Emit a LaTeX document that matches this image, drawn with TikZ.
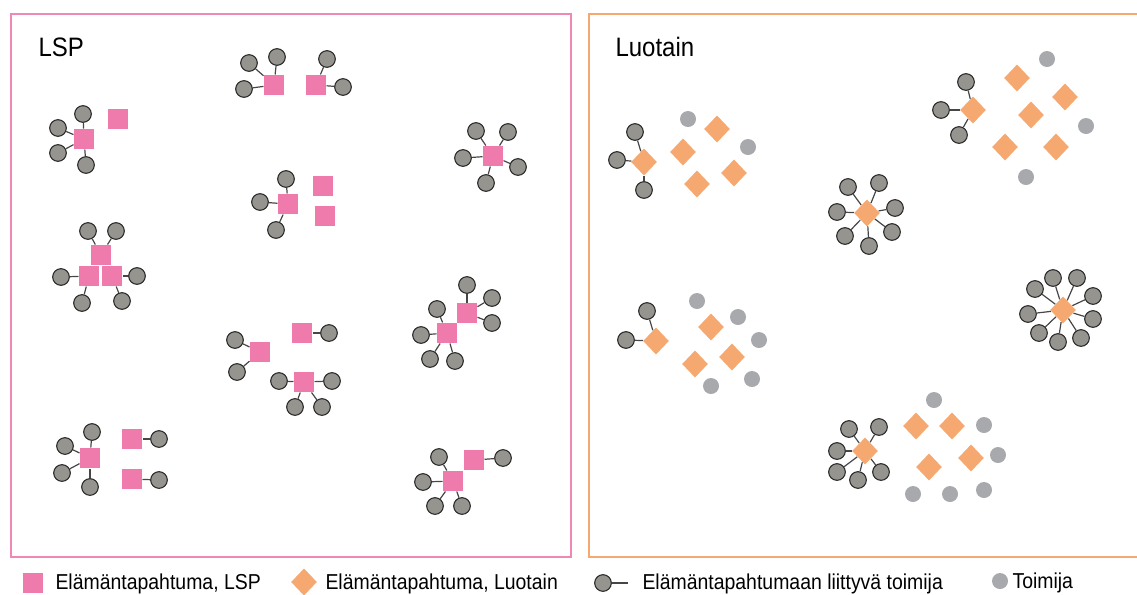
\documentclass[tikz,border=0pt]{standalone}
\usepackage{fontspec}
\setmainfont{Liberation Sans}[FakeStretch=0.9]
\usetikzlibrary{shapes.geometric}

\definecolor{lsppink}{RGB}{238,123,172}
\definecolor{luooranssi}{RGB}{245,168,111}
\definecolor{toimijaharmaa}{RGB}{149,148,143}
\definecolor{vapaaharmaa}{RGB}{168,169,173}
\definecolor{viiva}{RGB}{70,70,70}

\tikzset{every picture/.style={line width=0.75pt}}
\tikzset{
  lsp/.style={rectangle,fill=lsppink,inner sep=0pt,minimum size=15pt},
  luo/.style={diamond,fill=luooranssi,inner sep=0pt,minimum width=19.5pt,minimum height=20.5pt},
  toim/.style={circle,fill=toimijaharmaa,draw={rgb,255:red,40;green,40;blue,40},line width=0.8pt,inner sep=0pt,minimum size=12.5pt},
  vapaa/.style={circle,fill=vapaaharmaa,inner sep=0pt,minimum size=12pt},
  yhteys/.style={draw=viiva,line width=0.9pt},
  otsikko/.style={anchor=base west,inner sep=0pt,font=\fontsize{20}{24}\selectfont},
  selite/.style={anchor=base west,inner sep=0pt,font=\fontsize{16.2}{20}\selectfont}
}

\begin{document}
\begin{tikzpicture}[x=0.75pt,y=0.75pt,yscale=-1,xscale=1]
\useasboundingbox (0,0) rectangle (1137,594);

%Frames
\draw [color=lsppink!90!white,line width=1.5pt] (11,14) rectangle (571,557) ;
\draw [color=luooranssi,line width=1.5pt] (589,14) rectangle (1160,557) ;

% Text Node
\node [otsikko] (lspotsikko) at (38,56) {LSP};
% Text Node
\node [otsikko] (luootsikko) at (615,56) {Luotain};

%%%%%%%%%%%%%%%% LSP %%%%%%%%%%%%%%%%

%Group: one event, four actors, lone event
\node [lsp] (s1) at (84,139) {};
\node [lsp] (s1b) at (118,119) {};
\node [toim] (t1a) at (83,114) {};
\node [toim] (t1b) at (58,128) {};
\node [toim] (t1c) at (58,153) {};
\node [toim] (t1d) at (86,165) {};
\draw [yhteys] (t1a) -- (s1) ;
\draw [yhteys] (t1b) -- (s1) ;
\draw [yhteys] (t1c) -- (s1) ;
\draw [yhteys] (t1d) -- (s1) ;

%Group: two events side by side
\node [lsp] (s2a) at (274,85) {};
\node [lsp] (s2b) at (316,85) {};
\node [toim] (t2a) at (249,63) {};
\node [toim] (t2b) at (277,57) {};
\node [toim] (t2c) at (244,89) {};
\node [toim] (t2d) at (327,59) {};
\node [toim] (t2e) at (343,87) {};
\draw [yhteys] (t2a) -- (s2a) ;
\draw [yhteys] (t2b) -- (s2a) ;
\draw [yhteys] (t2c) -- (s2a) ;
\draw [yhteys] (t2d) -- (s2b) ;
\draw [yhteys] (t2e) -- (s2b) ;

%Group: five actors
\node [lsp] (s3) at (493,156) {};
\node [toim] (t3a) at (476,131) {};
\node [toim] (t3b) at (508,132) {};
\node [toim] (t3c) at (463,158) {};
\node [toim] (t3d) at (518,167) {};
\node [toim] (t3e) at (486,183) {};
\draw [yhteys] (t3a) -- (s3) ;
\draw [yhteys] (t3b) -- (s3) ;
\draw [yhteys] (t3c) -- (s3) ;
\draw [yhteys] (t3d) -- (s3) ;
\draw [yhteys] (t3e) -- (s3) ;

%Group: three actors, two lone events
\node [lsp] (s4) at (288,204) {};
\node [lsp] (s4b) at (323,186) {};
\node [lsp] (s4c) at (325,216) {};
\node [toim] (t4a) at (286,179) {};
\node [toim] (t4b) at (260,202) {};
\node [toim] (t4c) at (276,230) {};
\draw [yhteys] (t4a) -- (s4) ;
\draw [yhteys] (t4b) -- (s4) ;
\draw [yhteys] (t4c) -- (s4) ;

%Group: three stacked events
\node [lsp] (s5a) at (101,255) {};
\node [lsp] (s5b) at (89,276) {};
\node [lsp] (s5c) at (112,276) {};
\node [toim] (t5a) at (88,231) {};
\node [toim] (t5b) at (116,231) {};
\node [toim] (t5c) at (61,277) {};
\node [toim] (t5d) at (82,303) {};
\node [toim] (t5e) at (137,276) {};
\node [toim] (t5f) at (122,301) {};
\draw [yhteys] (t5a) -- (s5a) ;
\draw [yhteys] (t5b) -- (s5a) ;
\draw [yhteys] (t5c) -- (s5b) ;
\draw [yhteys] (t5d) -- (s5b) ;
\draw [yhteys] (t5e) -- (s5c) ;
\draw [yhteys] (t5f) -- (s5c) ;

%Group: three events in the middle
\node [lsp] (s6a) at (260,352) {};
\node [lsp] (s6b) at (302,333) {};
\node [lsp] (s6c) at (304,382) {};
\node [toim] (t6a) at (235,340) {};
\node [toim] (t6b) at (237,372) {};
\node [toim] (t6c) at (329,333) {};
\node [toim] (t6d) at (279,381) {};
\node [toim] (t6e) at (332,381) {};
\node [toim] (t6f) at (295,407) {};
\node [toim] (t6g) at (322,407) {};
\draw [yhteys] (t6a) -- (s6a) ;
\draw [yhteys] (t6b) -- (s6a) ;
\draw [yhteys] (t6c) -- (s6b) ;
\draw [yhteys] (t6d) -- (s6c) ;
\draw [yhteys] (t6e) -- (s6c) ;
\draw [yhteys] (t6f) -- (s6c) ;
\draw [yhteys] (t6g) -- (s6c) ;

%Group: two touching events
\node [lsp] (s7a) at (447,333) {};
\node [lsp] (s7b) at (467,313) {};
\node [toim] (t7a) at (437,309) {};
\node [toim] (t7b) at (421,335) {};
\node [toim] (t7c) at (430,359) {};
\node [toim] (t7d) at (455,361) {};
\node [toim] (t7e) at (467,285) {};
\node [toim] (t7f) at (492,298) {};
\node [toim] (t7g) at (492,323) {};
\draw [yhteys] (t7a) -- (s7a) ;
\draw [yhteys] (t7b) -- (s7a) ;
\draw [yhteys] (t7c) -- (s7a) ;
\draw [yhteys] (t7d) -- (s7a) ;
\draw [yhteys] (t7e) -- (s7b) ;
\draw [yhteys] (t7f) -- (s7b) ;
\draw [yhteys] (t7g) -- (s7b) ;

%Group: lower right
\node [lsp] (s8a) at (453,481) {};
\node [lsp] (s8b) at (474,460) {};
\node [toim] (t8a) at (439,457) {};
\node [toim] (t8b) at (423,482) {};
\node [toim] (t8c) at (435,506) {};
\node [toim] (t8d) at (462,506) {};
\node [toim] (t8e) at (503,458) {};
\draw [yhteys] (t8a) -- (s8a) ;
\draw [yhteys] (t8b) -- (s8a) ;
\draw [yhteys] (t8c) -- (s8a) ;
\draw [yhteys] (t8d) -- (s8a) ;
\draw [yhteys] (t8e) -- (s8b) ;

%Group: lower left
\node [lsp] (s9) at (90,458) {};
\node [lsp] (s9b) at (132,439) {};
\node [lsp] (s9c) at (132,479) {};
\node [toim] (t9a) at (92,432) {};
\node [toim] (t9b) at (65,446) {};
\node [toim] (t9c) at (62,473) {};
\node [toim] (t9d) at (90,487) {};
\node [toim] (t9e) at (159,439) {};
\node [toim] (t9f) at (159,480) {};
\draw [yhteys] (t9a) -- (s9) ;
\draw [yhteys] (t9b) -- (s9) ;
\draw [yhteys] (t9c) -- (s9) ;
\draw [yhteys] (t9d) -- (s9) ;
\draw [yhteys] (t9e) -- (s9b) ;
\draw [yhteys] (t9f) -- (s9c) ;

%%%%%%%%%%%%%%%% Luotain %%%%%%%%%%%%%%%%

%Group: upper left
\node [luo] (d1) at (644,162) {};
\node [toim] (u1a) at (635,132) {};
\node [toim] (u1b) at (617,160) {};
\node [toim] (u1c) at (644,190) {};
\draw [yhteys] (u1a) -- (d1) ;
\draw [yhteys] (u1b) -- (d1) ;
\draw [yhteys] (u1c) -- (d1) ;
\node [luo] (d1b) at (717,129) {};
\node [luo] (d1c) at (683,152) {};
\node [luo] (d1d) at (734,173) {};
\node [luo] (d1e) at (697,184) {};
\node [vapaa] (v1a) at (688,119) {};
\node [vapaa] (v1b) at (748,147) {};

%Group: upper right
\node [luo] (d2) at (973,110) {};
\node [toim] (u2a) at (966,82) {};
\node [toim] (u2b) at (941,110) {};
\node [toim] (u2c) at (959,135) {};
\draw [yhteys] (u2a) -- (d2) ;
\draw [yhteys] (u2b) -- (d2) ;
\draw [yhteys] (u2c) -- (d2) ;
\node [luo] (d2b) at (1017,78) {};
\node [luo] (d2c) at (1065,97) {};
\node [luo] (d2d) at (1031,115) {};
\node [luo] (d2e) at (1005,147) {};
\node [luo] (d2f) at (1056,147) {};
\node [vapaa] (v2a) at (1047,59) {};
\node [vapaa] (v2b) at (1086,126) {};
\node [vapaa] (v2c) at (1026,177) {};

%Group: seven actors
\node [luo] (d3) at (867,213) {};
\node [toim] (u3a) at (848,187) {};
\node [toim] (u3b) at (879,183) {};
\node [toim] (u3c) at (837,212) {};
\node [toim] (u3d) at (895,208) {};
\node [toim] (u3e) at (845,236) {};
\node [toim] (u3f) at (892,232) {};
\node [toim] (u3g) at (869,246) {};
\draw [yhteys] (u3a) -- (d3) ;
\draw [yhteys] (u3b) -- (d3) ;
\draw [yhteys] (u3c) -- (d3) ;
\draw [yhteys] (u3d) -- (d3) ;
\draw [yhteys] (u3e) -- (d3) ;
\draw [yhteys] (u3f) -- (d3) ;
\draw [yhteys] (u3g) -- (d3) ;

%Group: nine actors
\node [luo] (d4) at (1063,310) {};
\node [toim] (u4a) at (1053,278) {};
\node [toim] (u4b) at (1077,278) {};
\node [toim] (u4c) at (1035,289) {};
\node [toim] (u4d) at (1093,296) {};
\node [toim] (u4e) at (1028,314) {};
\node [toim] (u4f) at (1093,319) {};
\node [toim] (u4g) at (1039,333) {};
\node [toim] (u4h) at (1058,342) {};
\node [toim] (u4i) at (1081,338) {};
\draw [yhteys] (u4a) -- (d4) ;
\draw [yhteys] (u4b) -- (d4) ;
\draw [yhteys] (u4c) -- (d4) ;
\draw [yhteys] (u4d) -- (d4) ;
\draw [yhteys] (u4e) -- (d4) ;
\draw [yhteys] (u4f) -- (d4) ;
\draw [yhteys] (u4g) -- (d4) ;
\draw [yhteys] (u4h) -- (d4) ;
\draw [yhteys] (u4i) -- (d4) ;

%Group: middle left
\node [luo] (d5) at (656,341) {};
\node [toim] (u5a) at (647,311) {};
\node [toim] (u5b) at (626,340) {};
\draw [yhteys] (u5a) -- (d5) ;
\draw [yhteys] (u5b) -- (d5) ;
\node [luo] (d5b) at (711,327) {};
\node [luo] (d5c) at (732,357) {};
\node [luo] (d5d) at (695,364) {};
\node [vapaa] (v5a) at (697,301) {};
\node [vapaa] (v5b) at (738,317) {};
\node [vapaa] (v5c) at (759,340) {};
\node [vapaa] (v5d) at (752,379) {};
\node [vapaa] (v5e) at (711,386) {};

%Group: bottom
\node [luo] (d6) at (865,451) {};
\node [toim] (u6a) at (849,429) {};
\node [toim] (u6b) at (879,427) {};
\node [toim] (u6c) at (837,451) {};
\node [toim] (u6d) at (837,472) {};
\node [toim] (u6e) at (858,480) {};
\node [toim] (u6f) at (881,472) {};
\draw [yhteys] (u6a) -- (d6) ;
\draw [yhteys] (u6b) -- (d6) ;
\draw [yhteys] (u6c) -- (d6) ;
\draw [yhteys] (u6d) -- (d6) ;
\draw [yhteys] (u6e) -- (d6) ;
\draw [yhteys] (u6f) -- (d6) ;
\node [luo] (d6b) at (916,426) {};
\node [luo] (d6c) at (952,426) {};
\node [luo] (d6d) at (971,458) {};
\node [luo] (d6e) at (929,467) {};
\node [vapaa] (v6a) at (934,400) {};
\node [vapaa] (v6b) at (984,425) {};
\node [vapaa] (v6c) at (998,455) {};
\node [vapaa] (v6d) at (984,490) {};
\node [vapaa] (v6e) at (950,494) {};
\node [vapaa] (v6f) at (913,494) {};

%%%%%%%%%%%%%%%% Legend %%%%%%%%%%%%%%%%
\node [lsp] (sel1) at (33,583) {};
\node [selite] (sel1t) at (55,589) {Elämäntapahtuma, LSP};
\node [luo] (sel2) at (304,582) {};
\node [selite] (sel2t) at (325,589) {Elämäntapahtuma, Luotain};
\node [toim] (sel3) at (603,583) {};
\coordinate (sel3e) at (628,583);
\draw [yhteys] (sel3) -- (sel3e) ;
\node [selite] (sel3t) at (642,589) {Elämäntapahtumaan liittyvä toimija};
\node [vapaa] (sel4) at (1000,581) {};
\node [selite] (sel4t) at (1012,588) {Toimija};

\end{tikzpicture}
\end{document}
